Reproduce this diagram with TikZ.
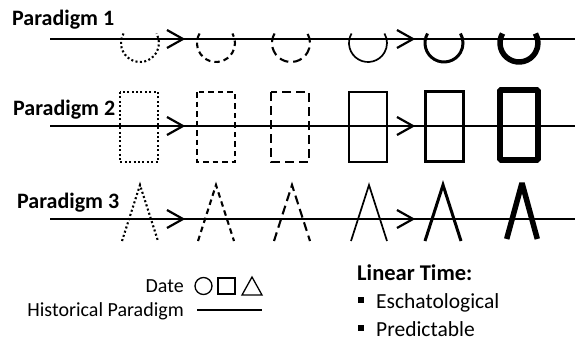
\documentclass[tikz,border=0pt]{standalone}
\usepackage{fontspec}
\setmainfont{Carlito}
\begin{document}
\begin{tikzpicture}[x=1pt,y=-1pt,
  timeline/.style={line width=2.2pt},
  chevline/.style={line width=2.2pt,line join=miter},
  dotline/.style={line width=2.1pt,dash pattern=on 2pt off 2.4pt},
  dashline/.style={line width=2.1pt,dash pattern=on 5.5pt off 4pt},
  longdash/.style={line width=2.1pt,dash pattern=on 9pt off 5pt},
  thinline/.style={line width=1.7pt},
  midline/.style={line width=3pt},
  heavyline/.style={line width=5.5pt,line join=bevel},
  rowlabel/.style={font=\fontsize{22}{25}\selectfont\bfseries,inner sep=0pt,anchor=base west},
  legendtext/.style={font=\fontsize{20}{23}\selectfont,inner sep=0pt},
  itemtext/.style={font=\fontsize{21.5}{24}\selectfont,inner sep=0pt,anchor=base west},
  legendshape/.style={line width=1.3pt},
  ushape/.pic={\draw[pic actions] (210:19) arc[start angle=210,end angle=-30,radius=19];},
  rshape/.pic={\draw[pic actions] (-19,-35) rectangle (19,35);},
  lshape/.pic={\draw[pic actions] (-18,28) -- (0,-28) -- (18,28);},
  chev/.pic={\draw[chevline] (-16,-9) -- (0,0) -- (-16,9);}
]
\useasboundingbox (0,0) rectangle (575,340);

% time lines
\coordinate (r1a) at (50,39);  \coordinate (r1b) at (576,39);
\coordinate (r2a) at (50,126); \coordinate (r2b) at (576,126);
\coordinate (r3a) at (50,219); \coordinate (r3b) at (576,219);
\draw[timeline] (r1a) -- (r1b);
\draw[timeline] (r2a) -- (r2b);
\draw[timeline] (r3a) -- (r3b);

% row labels
\node[rowlabel] (p1) at (12,25) {Paradigm 1};
\node[rowlabel] (p2) at (13,115) {Paradigm 2};
\node[rowlabel] (p3) at (17,208) {Paradigm 3};

% direction marks
\pic at (183,39) {chev};  \pic at (413,39) {chev};
\pic at (183,126) {chev}; \pic at (413,126) {chev};
\pic at (183,219) {chev}; \pic at (413,219) {chev};

% paradigm 1: arcs
\pic[dotline]   at (140,43) {ushape};
\pic[dashline]  at (216,43) {ushape};
\pic[longdash]  at (291,43) {ushape};
\pic[thinline]  at (368,43) {ushape};
\pic[midline]   at (444,43) {ushape};
\pic[heavyline] at (519,43) {ushape};

% paradigm 2: boxes
\pic[dotline]   at (139,127) {rshape};
\pic[dashline]  at (216,127) {rshape};
\pic[longdash]  at (290,127) {rshape};
\pic[thinline]  at (368,127) {rshape};
\pic[midline]   at (444,126) {rshape};
\pic[heavyline] at (519,125) {rshape};

% paradigm 3: peaks
\pic[dotline]   at (140,213) {lshape};
\pic[dashline]  at (216,213) {lshape};
\pic[longdash]  at (292,213) {lshape};
\pic[thinline]  at (369,213) {lshape};
\pic[midline]   at (443,213) {lshape};
\pic[heavyline,xscale=0.85] at (522,211) {lshape};

% legend
\node[legendtext,anchor=base east] (date) at (184,292) {Date};
\node[legendtext,anchor=base east] (hist) at (184,316) {Historical Paradigm};
\draw[legendshape] (203.5,286) circle[radius=8.5];
\draw[legendshape] (218,278) rectangle (235,294);
\draw[legendshape] (242,295) -- (252,277) -- (262,295) -- cycle;
\coordinate (h1) at (197,310); \coordinate (h2) at (262,310);
\draw[legendshape] (h1) -- (h2);

\node[font=\fontsize{22.5}{25}\selectfont\bfseries,inner sep=0pt,anchor=base west] (lt) at (357,280) {Linear Time:};
\node[itemtext] (esch) at (376,308) {Eschatological};
\node[itemtext] (pred) at (376,336) {Predictable};
\fill (358,297) rectangle (364,303);
\fill (358,325) rectangle (364,331);
\end{tikzpicture}
\end{document}
